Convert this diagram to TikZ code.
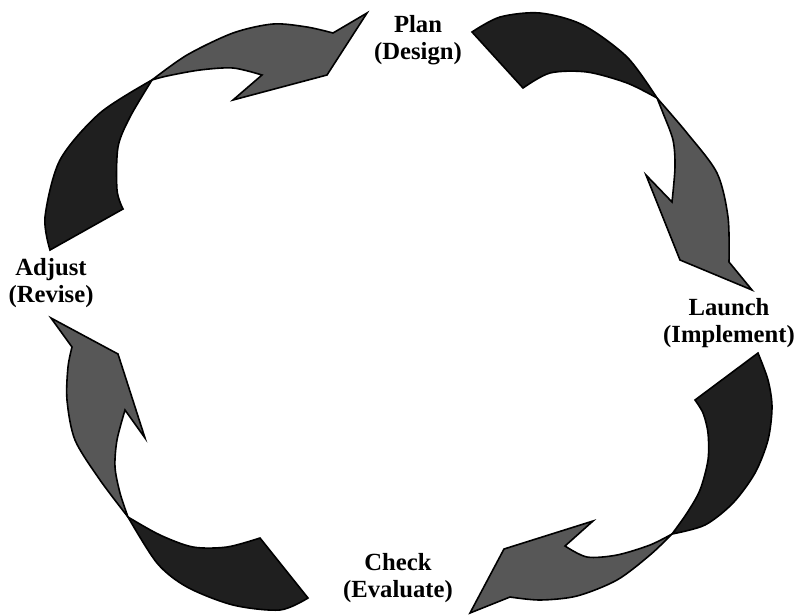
\documentclass[tikz,border=0pt]{standalone}
\usepackage{fontspec}
\setmainfont{Liberation Serif}
\begin{document}
\begin{tikzpicture}[x=0.75pt,y=-0.75pt,
  darkpart/.style={fill=black!88,draw=black,line width=1.2pt,line join=miter},
  greypart/.style={fill=black!66,draw=black,line width=1.2pt,line join=miter},
  lbl/.style={inner sep=0pt,anchor=base,font=\fontsize{18.5}{20.3}\selectfont\bfseries}]
\useasboundingbox (0,0) rectangle (796,615);
\fill[white] (0,0) rectangle (796,615);
\renewcommand\arraystretch{1}
\setlength\tabcolsep{0pt}
% Arrow 1: Adjust -> Plan
\path[darkpart] plot[smooth] coordinates {(152,80) (100,113) (60,160) (45,217) (50,250)}
  -- (123,209) -- plot[smooth] coordinates {(123,209) (117,190) (118,147) (130,117) (152,80)} -- cycle;
\path[greypart] plot[smooth] coordinates {(152,80) (187,55) (233,33) (273,24) (307,27) (333,33)}
  -- (367,13) -- (327,75) -- (233,100) -- (262,75)
  -- plot[smooth] coordinates {(262,75) (233,68) (200,70) (167,76) (152,80)} -- cycle;
% Arrow 2: Plan -> Launch
\path[darkpart] plot[smooth] coordinates {(472,32) (500,17) (540,13) (583,25) (627,57) (657,98)}
  -- plot[smooth] coordinates {(657,98) (627,83) (587,72) (550,73) (523,88)} -- cycle;
\path[greypart] plot[smooth] coordinates {(657,98) (687,133) (717,173) (728,217) (729,262)}
  -- (752,290) -- (680,260) -- (646,175) -- (672,202)
  -- plot[smooth] coordinates {(672,202) (675,167) (673,140) (663,113) (657,98)} -- cycle;
% Arrow 3: Launch -> Check
\path[darkpart] plot[smooth] coordinates {(758,353) (768,380) (772,407) (768,440) (755,473) (733,503) (705,525) (672,534)}
  -- plot[smooth] coordinates {(672,534) (687,513) (700,490) (708,460) (708,433) (703,413) (695,400)} -- cycle;
\path[greypart] plot[smooth] coordinates {(672,534) (650,555) (617,580) (577,596) (540,600) (510,597)}
  -- (470,613) -- (504,549) -- (593,521) -- (565,546)
  -- plot[smooth] coordinates {(565,546) (587,557) (617,555) (650,545) (672,534)} -- cycle;
% Arrow 4: Check -> Adjust
\path[darkpart] plot[smooth] coordinates {(308,598) (280,610) (233,605) (187,587) (157,563) (128,517)}
  -- plot[smooth] coordinates {(128,517) (160,535) (193,547) (227,547) (260,538)} -- cycle;
\path[greypart] plot[smooth] coordinates {(128,517) (100,480) (75,440) (67,400) (68,367) (72,347)}
  -- (51,318) -- (118,354) -- (145,438) -- (125,410)
  -- plot[smooth] coordinates {(125,410) (117,440) (115,467) (120,493) (128,517)} -- cycle;
% Labels
\node[lbl] (plan) at (418,32) {\begin{tabular}[t]{c}Plan\\(Design)\end{tabular}};
\node[lbl] (launch) at (729,315) {\begin{tabular}[t]{c}Launch\\(Implement)\end{tabular}};
\node[lbl] (check) at (398,570) {\begin{tabular}[t]{c}Check\\(Evaluate)\end{tabular}};
\node[lbl] (adjust) at (51,275) {\begin{tabular}[t]{c}Adjust\\(Revise)\end{tabular}};
\end{tikzpicture}
\end{document}
